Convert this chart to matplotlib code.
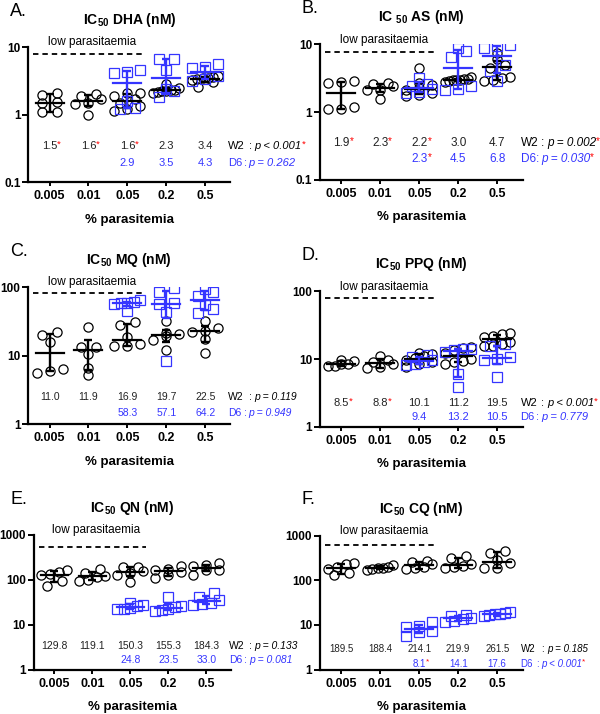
import numpy as np
import matplotlib
matplotlib.use('Agg')
import matplotlib.pyplot as plt

plt.rcParams['font.family'] = 'Liberation Sans'
plt.rcParams['mathtext.fontset'] = 'custom'
plt.rcParams['mathtext.rm'] = 'Liberation Sans'
plt.rcParams['mathtext.bf'] = 'Liberation Sans:bold'
plt.rcParams['mathtext.it'] = 'Liberation Sans:italic'

pct = ['0.005', '0.01', '0.05', '0.2', '0.5']
d6_cats = [2, 3, 4]

# A. DHA
dha_w2 = [[1.96, 2.1, 1.49, 1.53, 1.08, 1.08],
          [0.97, 1.45, 1.5, 1.7, 1.9, 2.05],
          [2.07, 2.1, 1.9, 1.7, 1.5, 1.35, 1.2, 1.15],
          [2.8, 2.5, 2.35, 2.3, 2.25, 2.2, 2.15, 2.1],
          [3.7, 3.6, 3.5, 3.45, 3.35, 3.3, 3.0, 2.6]]
dha_d6 = [[4.6, 4.3, 4.1, 1.6, 1.25, 1.2],
          [6.7, 6.6, 4.6, 2.4, 2.2, 1.85],
          [5.6, 5.1, 4.9, 3.7, 3.4, 3.2]]
dha_w2_med = [1.5, 1.6, 1.6, 2.3, 3.4]
dha_d6_med = [2.9, 3.5, 4.3]
dha_w2_star = [1, 1, 1, 0, 0]
dha_d6_star = [0, 0, 0]
dha_p = ['p < 0.001', 'p = 0.262']
dha_pstar = [1, 0]

# B. AS
as_w2 = [[2.85, 2.8, 2.7, 1.17, 1.12, 1.12],
         [2.65, 2.6, 2.45, 2.15, 2.1, 1.55],
         [4.4, 2.7, 2.5, 2.3, 2.1, 1.9, 1.8, 1.7],
         [3.3, 3.1, 3.05, 3.0, 3.0, 2.95, 2.9, 2.8],
         [7.4, 6.0, 4.9, 4.5, 3.3, 3.2, 2.95, 2.9]]
as_d6 = [[3.2, 2.6, 2.4, 2.2, 2.0, 1.9],
         [8.9, 7.9, 6.6, 2.4, 2.2, 2.1],
         [9.8, 9.5, 8.7, 4.9, 4.0, 2.9]]
as_w2_med = [1.9, 2.3, 2.2, 3.0, 4.7]
as_d6_med = [2.3, 4.5, 6.8]
as_w2_star = [1, 1, 1, 0, 0]
as_d6_star = [1, 0, 0]
as_p = ['p = 0.002', 'p = 0.030']
as_pstar = [1, 1]

# C. MQ
mq_w2 = [[22, 20, 15.7, 6.3, 6.0, 5.6],
         [26.3, 13.4, 13.2, 10.6, 6.5, 5.2],
         [31, 28, 18.8, 15, 13.8, 13.6],
         [32, 21, 20.5, 19, 17, 12],
         [31.8, 25, 23, 22, 17.4, 10.8]]
mq_d6 = [[65, 60, 59, 57.6, 56, 45],
         [96, 86, 58, 56.2, 43.6, 8.2],
         [92.5, 86, 73, 55.4, 48.6, 42]]
mq_w2_med = [11.0, 11.9, 16.9, 19.7, 22.5]
mq_d6_med = [58.3, 57.1, 64.2]
mq_w2_star = [0, 0, 0, 0, 0]
mq_d6_star = [0, 0, 0]
mq_p = ['p = 0.119', 'p = 0.949']
mq_pstar = [0, 0]

# D. PPQ
ppq_w2 = [[9.6, 9.3, 8.6, 8.4, 8.0, 7.8],
          [11.2, 9.6, 9.0, 8.6, 7.6, 7.3],
          [12.5, 12.0, 11.2, 10.4, 9.8, 9.2, 8.4, 7.6],
          [15.0, 14.5, 13.5, 12.5, 10.0, 9.5, 9.0, 8.5],
          [24.3, 23.4, 22, 21, 18, 16.5, 15.5, 15.5]]
ppq_d6 = [[11.4, 10.6, 9.6, 9.2, 8.6, 8.2],
          [14.3, 14.0, 13.6, 12.8, 6.0, 3.9],
          [16.6, 15.5, 10.8, 10.2, 9.6, 5.5]]
ppq_w2_med = [8.5, 8.8, 10.1, 11.2, 19.5]
ppq_d6_med = [9.4, 13.2, 10.5]
ppq_w2_star = [1, 1, 0, 0, 0]
ppq_d6_star = [0, 0, 0]
ppq_p = ['p < 0.001', 'p = 0.779']
ppq_pstar = [1, 0]

# E. QN
qn_w2 = [[164, 150, 135, 125, 95, 74],
         [178, 140, 122, 116, 100, 96],
         [195, 190, 160, 141, 130, 90],
         [198, 178, 165, 146, 125, 110],
         [235, 212, 200, 168, 164, 130]]
qn_d6 = [[30, 28, 26, 23.6, 22.5, 22],
         [42, 26.5, 25, 22, 21, 20.5],
         [50, 42, 36, 30, 29, 27]]
qn_w2_med = [129.8, 119.1, 150.3, 155.3, 184.3]
qn_d6_med = [24.8, 23.5, 33.0]
qn_w2_star = [0, 0, 0, 0, 0]
qn_d6_star = [0, 0, 0]
qn_p = ['p = 0.133', 'p = 0.081']
qn_pstar = [0, 0]

# F. CQ
cq_w2 = [[245, 230, 200, 180, 145, 130],
         [215, 200, 192, 185, 178, 172],
         [265, 255, 230, 198, 185, 175],
         [355, 310, 230, 210, 195, 185],
         [440, 410, 280, 243, 190, 185]]
cq_d6 = [[11.9, 9.6, 8.8, 7.4, 6.8, 5.8],
         [17, 16, 14.5, 13.7, 12.5, 11.5],
         [19.5, 18.8, 18, 17.2, 16.5, 15.5]]
cq_w2_med = [189.5, 188.4, 214.1, 219.9, 261.5]
cq_d6_med = [8.1, 14.1, 17.6]
cq_w2_star = [0, 0, 0, 0, 0]
cq_d6_star = [1, 0, 0]
cq_p = ['p = 0.185', 'p < 0.001']
cq_pstar = [0, 1]

low_level = [8.0, 7.6, 82, 79, 540, 620]

BLUE = '#3535ff'
W, H = 600, 714

panels = [
    ('A.', r'IC$_{\mathbf{50}}$ DHA (nM)', dha_w2, dha_d6, dha_w2_med, dha_d6_med,
     dha_w2_star, dha_d6_star, dha_p, dha_pstar,
     [0.047, 0.745, 0.337, 0.189], (0.1, 10), [0.1, 1, 10], (0.267, 0.141), 8),
    ('B.', r'IC $_{\mathbf{50}}$ AS (nM)', as_w2, as_d6, as_w2_med, as_d6_med,
     as_w2_star, as_d6_star, as_p, as_pstar,
     [0.533, 0.748, 0.338, 0.190], (0.1, 10), [0.1, 1, 10], (0.27, 0.154), 8.5),
    ('C.', r'IC$_{\mathbf{50}}$ MQ (nM)', mq_w2, mq_d6, mq_w2_med, mq_d6_med,
     mq_w2_star, mq_d6_star, mq_p, mq_pstar,
     [0.047, 0.406, 0.337, 0.192], (1, 100), [1, 10, 100], (0.197, 0.08), 7.5),
    ('D.', r'IC$_{\mathbf{50}}$ PPQ (nM)', ppq_w2, ppq_d6, ppq_w2_med, ppq_d6_med,
     ppq_w2_star, ppq_d6_star, ppq_p, ppq_pstar,
     [0.533, 0.402, 0.338, 0.190], (1, 100), [1, 10, 100], (0.176, 0.074), 8),
    ('E.', r'IC$_{\mathbf{50}}$ QN (nM)', qn_w2, qn_d6, qn_w2_med, qn_d6_med,
     qn_w2_star, qn_d6_star, qn_p, qn_pstar,
     [0.056, 0.062, 0.329, 0.189], (1, 1000), [1, 10, 100, 1000], (0.178, 0.074), 7.5),
    ('F.', r'IC$_{\mathbf{50}}$ CQ (nM)', cq_w2, cq_d6, cq_w2_med, cq_d6_med,
     cq_w2_star, cq_d6_star, cq_p, cq_pstar,
     [0.533, 0.062, 0.338, 0.188], (1, 1000), [1, 10, 100, 1000], (0.156, 0.044), 7),
]

XLIM = (-0.55, 4.65)


def swarm(vals, pos, ylim):
    # spread points that sit at nearly the same height into a short row
    vals = np.asarray(vals, dtype=float)
    h_px = pos[3] * H
    px_per_cat = pos[2] * W / (XLIM[1] - XLIM[0])
    ypx = np.log10(vals / ylim[0]) / np.log10(ylim[1] / ylim[0]) * h_px
    order = np.argsort(ypx)
    offs = np.zeros(len(vals))
    groups = []
    cur = [order[0]]
    for i in order[1:]:
        if ypx[i] - ypx[cur[0]] < 6:
            cur.append(i)
        else:
            groups.append(cur)
            cur = [i]
    groups.append(cur)
    for g in groups:
        k = len(g)
        s = 15.0 if k < 2 else min(15.0, 26.0 / (k - 1))
        for j, i in enumerate(g):
            offs[i] = (j - (k - 1) / 2.0) * s
    return offs / px_per_cat


def draw_group(ax, x, vals, med, pos, ylim, color, marker, ms):
    off = swarm(vals, pos, ylim)
    ax.plot(x + off, vals, marker, linestyle='none', mfc='none', mec=color, ms=ms, mew=0.9, zorder=3)
    q1, q3 = np.percentile(vals, [25, 75], method='weibull')
    ax.errorbar(x, (q1 + q3) / 2.0, yerr=(q3 - q1) / 2.0, fmt='none', ecolor=color,
                elinewidth=1.7, capsize=2.8, capthick=1.7, zorder=4)
    ax.plot([x - 0.36, x + 0.36], [med, med], color=color, lw=1.6, zorder=4)


def star_after(ax, t, fs):
    ax.annotate('*', xy=(1, 0.7), xycoords=t, color='red', fontsize=fs * 0.85,
                ha='left', va='center')


fig = plt.figure(figsize=(6.0, 7.14), dpi=100)

for (letter, title, w2, d6, w2_med, d6_med, w2_star, d6_star, pvals, pstar,
     pos, ylim, yticks, rows, fs), low in zip(panels, low_level):
    ax = fig.add_axes(pos)
    ax.set_yscale('log')
    ax.set_ylim(ylim)
    ax.set_xlim(XLIM)

    for i, vals in enumerate(w2):
        draw_group(ax, i, vals, w2_med[i], pos, ylim, 'black', 'o', 6.6)
    for j, vals in enumerate(d6):
        draw_group(ax, d6_cats[j], vals, d6_med[j], pos, ylim, BLUE, 's', 6.8)

    # low parasitaemia marker
    ax.plot([-0.42, 2.4], [low, low], color='black', lw=1.3, dashes=(3, 2.2))
    ax.text(1.1, 0.99, 'low parasitaemia', transform=ax.get_xaxis_transform(),
            ha='center', va='bottom', fontsize=8.5)

    # medians and p values
    tr = ax.get_xaxis_transform()
    for i, m in enumerate(w2_med):
        t = ax.text(i, rows[0], '%.1f' % m, transform=tr, ha='center', va='center',
                    fontsize=fs, color='#222222')
        if w2_star[i]:
            star_after(ax, t, fs)
    for j, m in enumerate(d6_med):
        t = ax.text(d6_cats[j], rows[1], '%.1f' % m, transform=tr, ha='center', va='center',
                    fontsize=fs, color=BLUE)
        if d6_star[j]:
            star_after(ax, t, fs)

    ax.text(0.99, rows[0], 'W2', transform=ax.transAxes, ha='left', va='center', fontsize=fs)
    ax.text(1.09, rows[0], ':', transform=ax.transAxes, ha='left', va='center', fontsize=fs)
    t = ax.text(1.12, rows[0], pvals[0], transform=ax.transAxes, ha='left', va='center',
                fontsize=fs, style='italic')
    if pstar[0]:
        star_after(ax, t, fs)
    ax.text(0.99, rows[1], 'D6', transform=ax.transAxes, ha='left', va='center',
            fontsize=fs, color=BLUE)
    ax.text(1.065, rows[1], ':', transform=ax.transAxes, ha='left', va='center',
            fontsize=fs, color=BLUE)
    t = ax.text(1.09, rows[1], pvals[1], transform=ax.transAxes, ha='left', va='center',
                fontsize=fs, style='italic', color=BLUE)
    if pstar[1]:
        star_after(ax, t, fs)

    # axes styling
    for side in ['top', 'right']:
        ax.spines[side].set_visible(False)
    ax.spines['left'].set_linewidth(1.6)
    ax.spines['bottom'].set_linewidth(1.6)
    ax.set_yticks(yticks)
    ax.set_yticklabels(['%g' % v for v in yticks], fontweight='bold', fontsize=8.5)
    ax.yaxis.set_minor_locator(matplotlib.ticker.NullLocator())
    ax.set_xticks(range(len(pct)))
    ax.set_xticklabels(pct, fontweight='bold', fontsize=9)
    ax.tick_params(axis='y', length=4, width=1.4, pad=1.5)
    ax.tick_params(axis='x', length=3, width=1.4, pad=3)
    ax.set_xlabel('% parasitemia', fontweight='bold', fontsize=9.5, labelpad=8)

    ax.text(0.5, 1.2, title, transform=ax.transAxes, ha='center', va='center',
            fontsize=10, fontweight='bold')
    fig.text(0.017 if pos[0] < 0.3 else 0.503, pos[1] + pos[3] + 0.05, letter, fontsize=13,
             ha='left', va='center')

plt.savefig('out.png', dpi=100)
